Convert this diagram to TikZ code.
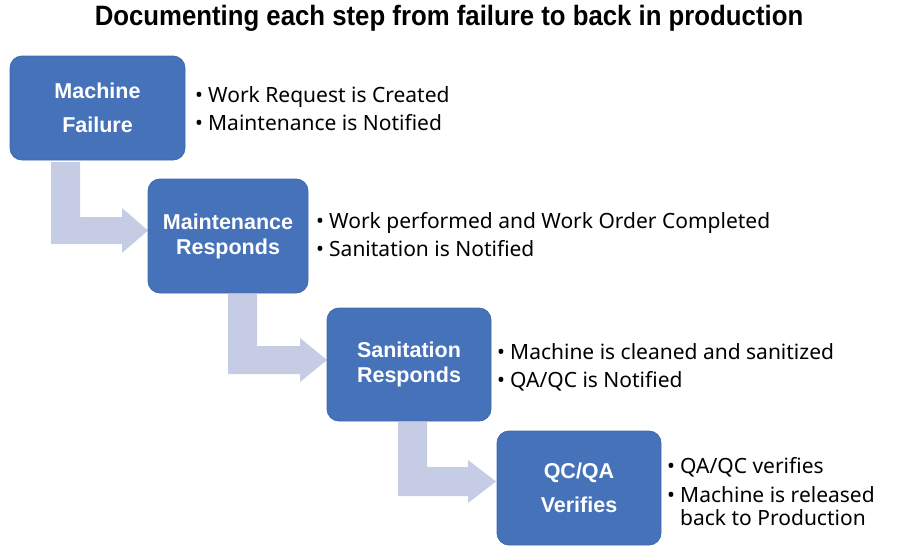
\documentclass[tikz,border=0pt]{standalone}
\usepackage{fontspec}
\setmainfont{Noto Sans}
\newfontfamily\boxfont{Liberation Sans}
\newfontfamily\titlefont{Liberation Sans}
\definecolor{boxblue}{HTML}{4672B9}
\definecolor{boxedge}{HTML}{4068AD}
\definecolor{arrowc}{HTML}{C6CCE4}
\tikzset{
  x=1pt, y=-1pt,
  stepbox/.style={draw=boxedge, line width=0.8pt, fill=boxblue, rounded corners=12pt,
    text=white, align=center, font=\boxfont\fontsize{21.5}{25}\selectfont\bfseries, inner sep=0pt},
  bullets/.style={anchor=base west, align=left, inner sep=0pt,
    font=\fontsize{21}{28}\selectfont},
  larrow/.style={fill=arrowc, draw=none},
}
\newcommand{\bitem}[1]{\makebox[13pt][l]{\textbullet}#1}
\begin{document}
\begin{tikzpicture}
\useasboundingbox (0,0) rectangle (900,550);
\node (title) at (449,18) {\titlefont\bfseries\fontsize{28}{32}\selectfont\scalebox{0.92}[1]{Documenting each step from failure to back in production}};

% arrows
\fill[larrow] (51,162) -- (80,162) -- (80,217) -- (122,217) -- (122,208) -- (148,230.5) -- (122,253) -- (122,244) -- (51,244) -- cycle;
\fill[larrow] (228,294) -- (257,294) -- (257,346) -- (300,346) -- (300,338) -- (327,360) -- (300,382) -- (300,374) -- (228,374) -- cycle;
\fill[larrow] (398,422) -- (427,422) -- (427,467) -- (468,467) -- (468,460) -- (496,481.5) -- (468,503) -- (468,496) -- (398,496) -- cycle;

% boxes
\node[stepbox, minimum width=175pt, minimum height=104pt] (b1) at (97.5,108) {Machine\\[9pt]Failure};
\node[stepbox, minimum width=160pt, minimum height=114pt] (b2) at (228,236) {Maintenance\\Responds};
\node[stepbox, minimum width=164pt, minimum height=113pt] (b3) at (409,364.5) {Sanitation\\Responds};
\node[stepbox, minimum width=164pt, minimum height=114pt] (b4) at (579,488) {QC/QA\\[9pt]Verifies};

% bullet texts (anchored at the baseline of the last line)
\node[bullets] (t1) at (195,130) {\bitem{Work Request is Created}\\\bitem{Maintenance is Notified}};
\node[bullets] (t2) at (316,256) {\bitem{Work performed and Work Order Completed}\\\bitem{Sanitation is Notified}};
\node[bullets] (t3) at (497,387) {\bitem{Machine is cleaned and sanitized}\\\bitem{QA/QC is Notified}};
\node[bullets] (t4) at (667,525) {\bitem{QA/QC verifies}\\[1pt]\bitem{Machine is released}\\[-5pt]\hspace*{13pt}back to Production};
\end{tikzpicture}
\end{document}
